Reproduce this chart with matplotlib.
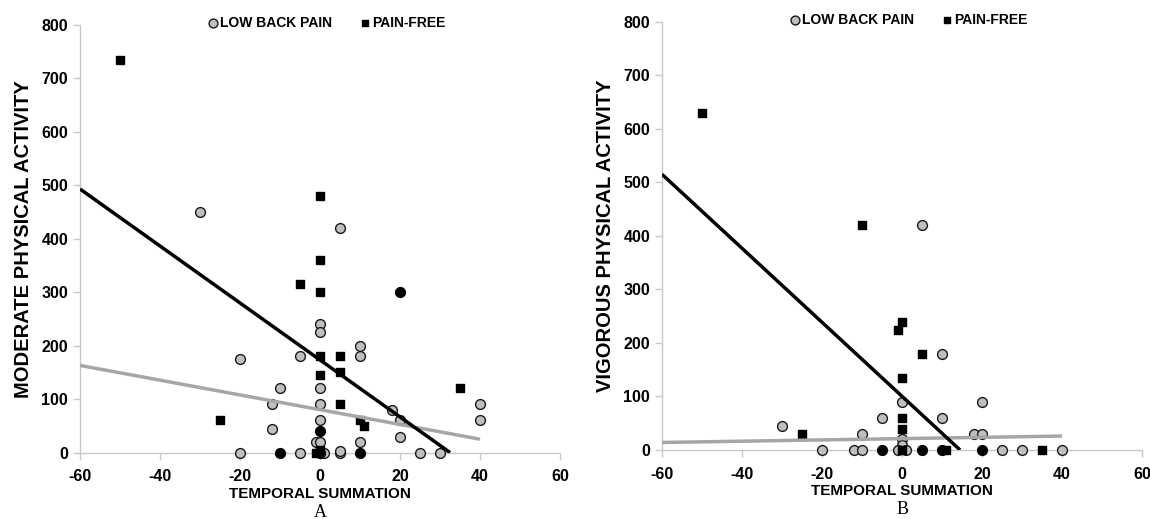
import matplotlib.pyplot as plt

plt.rcParams['font.family'] = ['Liberation Sans', 'DejaVu Sans']
plt.rcParams['axes.unicode_minus'] = False

# =====================================
# DATA
# =====================================

# Panel A - moderate physical activity
lbp_a_x = [-30, 5, 0, 0, 10, 10, -5, -20, -10, 0, -12, 0, 18, 20, 0, 40, 40,
           -12, 20, 10, -1, 0, -20, -5, 1, 5, 5, 25, 30]
lbp_a_y = [450, 420, 240, 225, 200, 180, 180, 175, 120, 120, 90, 90, 80, 60,
           60, 90, 60, 45, 30, 20, 20, 20, 0, 0, 0, 0, 3, 0, 0]
pf_a_x = [-50, 0, 0, -5, 0, 0, 5, 5, 0, 5, 35, -25, 10, 11, -1, 0]
pf_a_y = [735, 480, 360, 315, 300, 180, 180, 150, 145, 90, 120, 60, 60, 50, 0, 5]
both_a_x = [20, 0, -10, 10, 0]
both_a_y = [300, 40, 0, 0, 0]

trend_a_pf_x = [-60, 32.5]
trend_a_pf_y = [493, 0]
trend_a_lbp_x = [-60, 40]
trend_a_lbp_y = [163, 25]

# Panel B - vigorous physical activity
lbp_b_x = [5, 10, -30, 0, -5, 10, 20, -10, 18, 20, 0, 0, -20, -12, -10, -1,
           1, 25, 30, 40]
lbp_b_y = [420, 180, 45, 90, 60, 60, 90, 30, 30, 30, 20, 10, 0, 0, 0, 0, 0,
           0, 0, 0]
pf_b_x = [-50, -10, 0, -1, 5, 0, 0, 0, -25, 0, 11, 35]
pf_b_y = [630, 420, 240, 225, 180, 135, 60, 40, 30, 0, 0, 0]
both_b_x = [-5, 5, 10, 20]
both_b_y = [0, 0, 0, 0]

trend_b_pf_x = [-60, 14.5]
trend_b_pf_y = [515, 0]
trend_b_lbp_x = [-60, 40]
trend_b_lbp_y = [14, 26]

x_ticks = [-60, -40, -20, 0, 20, 40, 60]
y_ticks = [0, 100, 200, 300, 400, 500, 600, 700, 800]

# =====================================
# FIGURE
# =====================================

fig = plt.figure(figsize=(11.5, 5.19), dpi=100)
ax_a = fig.add_axes([0.0696, 0.128, 0.4174, 0.824])
ax_b = fig.add_axes([0.5757, 0.133, 0.4174, 0.825])

panels = [
    (ax_a, lbp_a_x, lbp_a_y, pf_a_x, pf_a_y, both_a_x, both_a_y,
     trend_a_pf_x, trend_a_pf_y, trend_a_lbp_x, trend_a_lbp_y,
     "MODERATE PHYSICAL ACTIVITY", "A"),
    (ax_b, lbp_b_x, lbp_b_y, pf_b_x, pf_b_y, both_b_x, both_b_y,
     trend_b_pf_x, trend_b_pf_y, trend_b_lbp_x, trend_b_lbp_y,
     "VIGOROUS PHYSICAL ACTIVITY", "B"),
]

for (ax, lx, ly, px, py, bx, by, tpx, tpy, tlx, tly, ylab, letter) in panels:
    ax.scatter(lx, ly, s=50, facecolor='#bfbfbf', edgecolor='#1a1a1a',
               linewidth=1.0, zorder=3, clip_on=False, label='LOW BACK PAIN')
    ax.scatter(px, py, s=28, marker='s', color='black', zorder=4,
               clip_on=False, label='PAIN-FREE')
    ax.scatter(bx, by, s=50, color='black', zorder=4, clip_on=False)

    # trend lines
    ax.plot(tlx, tly, color='#a6a6a6', linewidth=2.5, zorder=5,
            solid_capstyle='butt')
    ax.plot(tpx, tpy, color='black', linewidth=2.5, zorder=5,
            solid_capstyle='butt')

    ax.set_xlim(-60, 60)
    ax.set_ylim(0, 800)
    ax.set_xticks(x_ticks)
    ax.set_yticks(y_ticks)
    ax.tick_params(colors='#c8c8c8', length=5, width=1, labelcolor='black',
                   labelsize=11.5)
    ax.tick_params(axis='x', pad=7)
    for lab in ax.get_xticklabels() + ax.get_yticklabels():
        lab.set_fontweight('bold')

    for side in ['top', 'right']:
        ax.spines[side].set_visible(False)
    for side in ['left', 'bottom']:
        ax.spines[side].set_color('#c8c8c8')
        ax.spines[side].set_linewidth(1)

    ax.set_xlabel("TEMPORAL SUMMATION", fontsize=11, fontweight='bold',
                  labelpad=2)
    ax.set_ylabel(ylab, fontsize=14.5, fontweight='bold', labelpad=6)
    ax.text(0.5, -0.12, letter, transform=ax.transAxes, ha='center',
            va='top', fontsize=13, family='Liberation Serif')

    leg = ax.legend(loc='upper center', bbox_to_anchor=(0.512, 1.05), ncol=2,
                    frameon=False, handletextpad=0.0, columnspacing=1.9,
                    prop={'weight': 'bold', 'size': 10},
                    markerscale=0.9, handlelength=1.0)

fig.savefig("out.png", dpi=100)
